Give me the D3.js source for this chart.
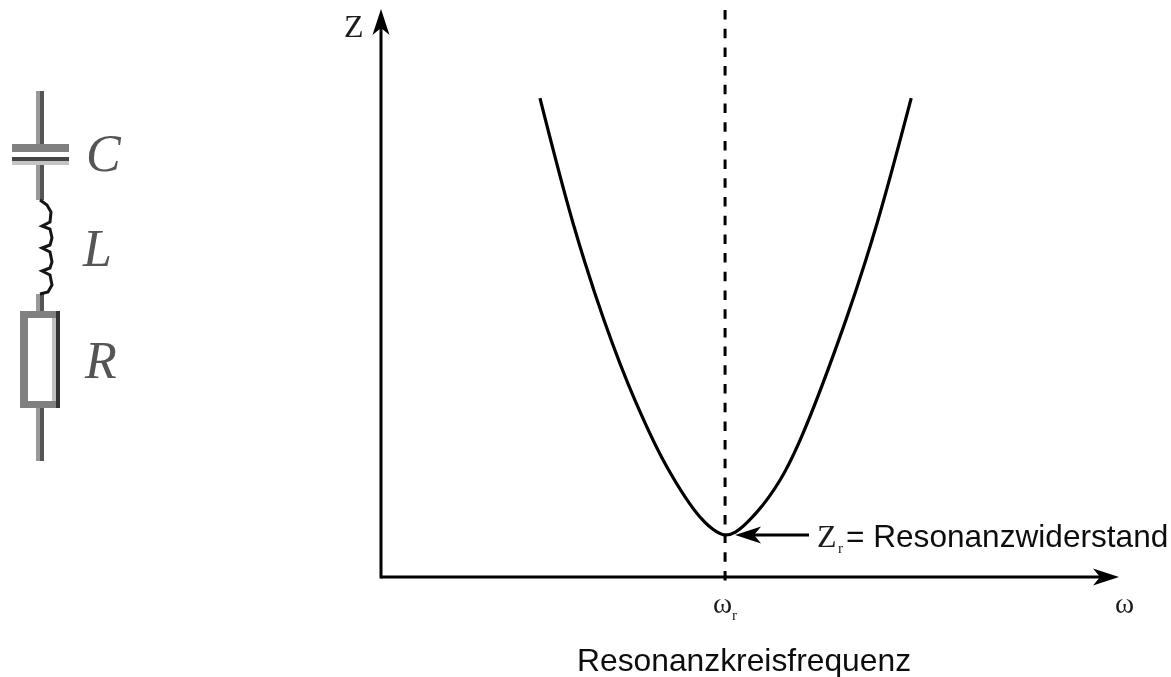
<!DOCTYPE html>
<html>
<head>
<meta charset="utf-8">
<script src="https://cdn.jsdelivr.net/npm/d3@7"></script>
<style>
html, body { margin: 0; padding: 0; background: #fff; }
svg { display: block; }
.serif { font-family: "Liberation Serif", serif; fill: #1a1a1a; }
.sans { font-family: "Liberation Sans", sans-serif; fill: #111; }
</style>
</head>
<body>
<div id="chart"></div>
<script>
// impedance curve, w / wr against Z / Zr
var omega = [.462, .558, .648, .738, .831, .927, .975, 1, 1.03, 1.093, 1.160, 1.218, 1.352, 1.442, 1.541];
var impedance = [11.40, 8.43, 6.12, 4.21, 2.62, 1.43, 1.08, 1, 1.07, 1.55, 2.31, 3.26, 6.14, 8.43, 11.40];
var omegaRes = 1;
var impedanceRes = 1;

var omegaMax = 2.142;
var zMax = 13.5;

// schematic, in its own px units
var coilPts = [[40, 200], [47, 205], [51, 212], [50, 222], [42, 226], [50, 229], [52, 238], [50, 245],
    [42, 248], [50, 252], [52, 262], [50, 268], [42, 271], [50, 275], [52, 285], [48, 292], [40, 294]];
var leads = [[91, 146], [163, 200], [294, 312], [407, 461]];
var schemLabels = ['C', 'L', 'R'];

var width = 1171, height = 677;

var svg = d3.select('#chart').append('svg')
    .attr('width', width).attr('height', height)
    .attr('viewBox', '0 0 ' + width + ' ' + height);

var defs = svg.append('defs');
defs.append('filter').attr('id', 'soft').append('feGaussianBlur').attr('stdDeviation', 0.45);
defs.append('filter').attr('id', 'soft2').append('feGaussianBlur').attr('stdDeviation', 0.7);

var x = d3.scaleLinear().domain([0, omegaMax]).range([381, 1118]);
var y = d3.scaleLinear().domain([0, zMax]).range([577, 10]);

var plot = svg.append('g').attr('filter', 'url(#soft)');

// axes, no ticks
plot.append('g').attr('transform', 'translate(0,' + y(0) + ')')
    .call(d3.axisBottom(x).tickValues([]).tickSize(0))
    .select('.domain').attr('stroke', '#000').attr('stroke-width', 3).attr('d', 'M' + x(0) + ',0H' + (x(omegaMax) - 12));
plot.append('g').attr('transform', 'translate(' + x(0) + ',0)')
    .call(d3.axisLeft(y).tickValues([]).tickSize(0))
    .select('.domain').attr('stroke', '#000').attr('stroke-width', 3).attr('d', 'M0,' + (y(0) + 1.5) + 'V' + (y(zMax) + 12));

// arrow head pointing along +x, rotated where needed
function head(px, py, rot) {
    plot.append('path')
        .attr('d', 'M0,0L-26,-8.5L-19,0L-26,8.5Z')
        .attr('transform', 'translate(' + px + ',' + py + ') rotate(' + rot + ')')
        .attr('fill', '#000');
}
head(x(omegaMax) + 1, y(0), 0);
head(x(0), y(zMax) - 1, -90);

// resonance line
plot.append('line')
    .attr('x1', x(omegaRes)).attr('x2', x(omegaRes))
    .attr('y1', 10).attr('y2', y(0) + 5)
    .attr('stroke', '#000').attr('stroke-width', 3)
    .attr('stroke-dasharray', '9.5 9.2');

// curve
var line = d3.line()
    .x(function(d, i) { return x(omega[i]); })
    .y(function(d) { return y(d); })
    .curve(d3.curveCatmullRom.alpha(0.5));

plot.append('path')
    .attr('d', line(impedance))
    .attr('fill', 'none').attr('stroke', '#000').attr('stroke-width', 3.2);

// pointer to Zr
plot.append('line')
    .attr('x1', x(omegaRes) + 25).attr('x2', 809)
    .attr('y1', y(impedanceRes)).attr('y2', y(impedanceRes))
    .attr('stroke', '#000').attr('stroke-width', 3);
head(x(omegaRes) + 10, y(impedanceRes), 180);

// labels
var txt = svg.append('g').attr('filter', 'url(#soft)');
txt.append('text').attr('class', 'serif').attr('x', 344).attr('y', 37).attr('font-size', 32).text('Z');
txt.append('text').attr('class', 'serif').attr('x', 817).attr('y', 547).attr('font-size', 32).text('Z');
txt.append('text').attr('class', 'serif').attr('x', 838).attr('y', 553).attr('font-size', 15).text('r');
txt.append('text').attr('class', 'sans').attr('x', 846).attr('y', 547).attr('font-size', 31.6).text('= Resonanzwiderstand');
txt.append('text').attr('class', 'serif').attr('x', 713).attr('y', 613).attr('font-size', 29).text('\u03c9');
txt.append('text').attr('class', 'serif').attr('x', 732).attr('y', 620).attr('font-size', 15).text('r');
txt.append('text').attr('class', 'serif').attr('x', 1115).attr('y', 613).attr('font-size', 29).text('\u03c9');
txt.append('text').attr('class', 'sans').attr('x', 577).attr('y', 671).attr('font-size', 31.8).text('Resonanzkreisfrequenz');

// schematic
var sch = svg.append('g');
leads.forEach(function(l) {
    sch.append('rect').attr('x', 36).attr('y', l[0]).attr('width', 4).attr('height', l[1] - l[0]).attr('fill', '#999');
    sch.append('rect').attr('x', 40).attr('y', l[0]).attr('width', 4).attr('height', l[1] - l[0]).attr('fill', '#555');
});
// capacitor plates
sch.append('rect').attr('x', 12).attr('y', 144).attr('width', 57).attr('height', 8).attr('fill', '#808080');
sch.append('rect').attr('x', 12).attr('y', 157).attr('width', 57).attr('height', 4).attr('fill', '#444');
sch.append('rect').attr('x', 12).attr('y', 161).attr('width', 57).attr('height', 4).attr('fill', '#c4c4c4');
// coil
sch.append('path')
    .attr('d', d3.line().curve(d3.curveLinear)(coilPts))
    .attr('fill', 'none').attr('stroke', '#151515').attr('stroke-width', 3);
// resistor
sch.append('rect').attr('x', 20).attr('y', 311).attr('width', 8).attr('height', 97).attr('fill', '#808080');
sch.append('rect').attr('x', 52).attr('y', 311).attr('width', 4).attr('height', 97).attr('fill', '#c0c0c0');
sch.append('rect').attr('x', 56).attr('y', 311).attr('width', 4).attr('height', 97).attr('fill', '#333');
sch.append('rect').attr('x', 24).attr('y', 311).attr('width', 32).attr('height', 7).attr('fill', '#808080');
sch.append('rect').attr('x', 24).attr('y', 401).attr('width', 32).attr('height', 7).attr('fill', '#808080');

sch.selectAll('text.part').data(schemLabels).enter().append('text')
    .attr('class', 'serif part')
    .attr('x', function(d, i) { return [86, 83, 85][i]; })
    .attr('y', function(d, i) { return [171, 266, 378][i]; })
    .attr('font-size', 52).attr('font-style', 'italic')
    .attr('filter', 'url(#soft2)')
    .style('fill', '#555')
    .text(function(d) { return d; });
</script>
</body>
</html>
